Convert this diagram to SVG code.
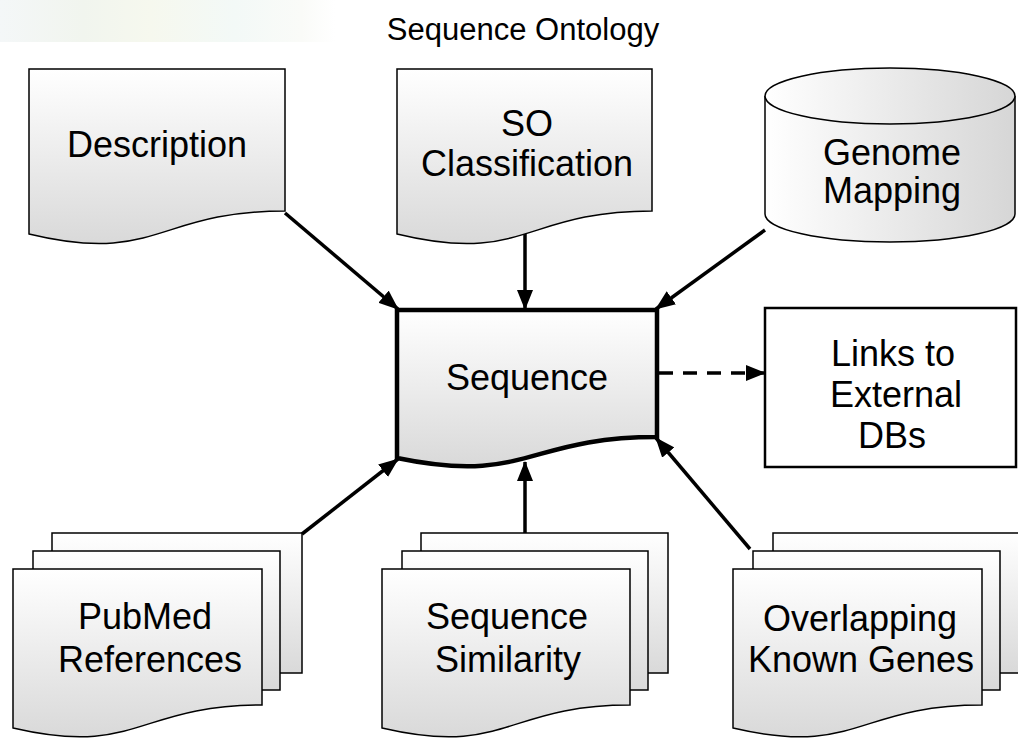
<svg xmlns="http://www.w3.org/2000/svg" width="1018" height="741" viewBox="0 0 1018 741">
<style>
.t{font-family:"Liberation Sans",Arial,sans-serif;font-size:36px;fill:#000;text-anchor:middle}
.doc{fill:url(#gv);stroke:#000;stroke-width:1.5}
.page{fill:url(#gv);stroke:#000;stroke-width:1.5}
.arr{stroke:#000;stroke-width:3.5;fill:none;marker-end:url(#ah)}
</style>
<defs>
<linearGradient id="gv" x1="0" y1="0" x2="0" y2="1">
<stop offset="0" stop-color="#ffffff"/>
<stop offset="1" stop-color="#d9d9d9"/>
</linearGradient>
<linearGradient id="gh" x1="0" y1="0" x2="1" y2="0">
<stop offset="0" stop-color="#ffffff"/>
<stop offset="1" stop-color="#d6d6d6"/>
</linearGradient>
<linearGradient id="bg" x1="0" y1="0" x2="1" y2="0">
<stop offset="0" stop-color="#f4f7f8"/>
<stop offset="0.25" stop-color="#f1f5ee"/>
<stop offset="0.45" stop-color="#f6f8ee"/>
<stop offset="0.7" stop-color="#f3f9f7"/>
<stop offset="0.9" stop-color="#fafbf8"/>
<stop offset="1" stop-color="#ffffff"/>
</linearGradient>
<marker id="ah" viewBox="0 0 20 16" refX="19" refY="8" markerWidth="20" markerHeight="16" markerUnits="userSpaceOnUse" orient="auto">
<path d="M0,0 L20,8 L0,16 z" fill="#000"/>
</marker>
</defs>
<rect width="1018" height="741" fill="#fff"/>
<rect id="bgpatch" x="0" y="0" width="335" height="42" fill="url(#bg)"/>
<text class="t" x="523" y="40" style="font-size:31px">Sequence Ontology</text>

<g id="connectors">
<line class="arr" x1="285" y1="213" x2="398" y2="309"/>
<line class="arr" x1="525" y1="232" x2="525" y2="309"/>
<line class="arr" x1="765" y1="230" x2="656" y2="309"/>
<line class="arr" x1="302" y1="534" x2="398" y2="459"/>
<line class="arr" x1="525" y1="533" x2="525" y2="462"/>
<line class="arr" x1="750" y1="549" x2="656" y2="438"/>
<line class="arr" x1="659" y1="373" x2="765" y2="373" stroke-dasharray="14,10"/>
</g>

<g id="description">
<path class="doc" d="M29,69 H285 V211 C157,211 157,265 29,234 Z"/>
<text class="t" x="157" y="157">Description</text>
</g>

<g id="so-classification">
<path class="doc" d="M397,69 H652 V211 C524.5,211 524.5,265 397,234 Z"/>
<text class="t" x="527" y="136">SO</text>
<text class="t" x="527" y="176">Classification</text>
</g>

<g id="genome-mapping">
<path d="M765,96 V214 A125,28 0 0 0 1015,214 V96" fill="url(#gh)" stroke="#000" stroke-width="1.5"/>
<ellipse cx="890" cy="96" rx="125" ry="28" fill="url(#gh)" stroke="#000" stroke-width="1.5"/>
<text class="t" x="892" y="165">Genome</text>
<text class="t" x="892" y="203">Mapping</text>
</g>

<g id="sequence">
<path d="M397,310 H657 V437 C527,437 527,485 397,458 Z" fill="url(#gv)" stroke="#000" stroke-width="4.5" stroke-linejoin="miter"/>
<text class="t" x="527" y="390">Sequence</text>
</g>

<g id="links">
<rect x="765" y="308" width="251" height="159" fill="#fff" stroke="#000" stroke-width="2.5"/>
<text class="t" x="893" y="366">Links to</text>
<text class="t" x="896" y="407">External</text>
<text class="t" x="892" y="448">DBs</text>
</g>

<g id="pubmed">
<rect class="page" x="52" y="533" width="250" height="140"/>
<rect class="page" x="33" y="551" width="247" height="139"/>
<path class="doc" d="M13,569 H262 V705 C137.5,705 137.5,757 13,728 Z"/>
<text class="t" x="145" y="629">PubMed</text>
<text class="t" x="150" y="672">References</text>
</g>

<g id="sequence-similarity">
<rect class="page" x="421" y="533" width="247" height="140"/>
<rect class="page" x="402" y="551" width="246" height="139"/>
<path class="doc" d="M382,569 H630 V705 C506,705 506,757 382,728 Z"/>
<text class="t" x="507" y="629">Sequence</text>
<text class="t" x="508" y="672">Similarity</text>
</g>

<g id="overlapping">
<rect class="page" x="773" y="533" width="260" height="140"/>
<rect class="page" x="753" y="551" width="247" height="139"/>
<path class="doc" d="M733,569 H982 V705 C857.5,705 857.5,757 733,728 Z"/>
<text class="t" x="860" y="631">Overlapping</text>
<text class="t" x="861" y="672">Known Genes</text>
</g>
</svg>
